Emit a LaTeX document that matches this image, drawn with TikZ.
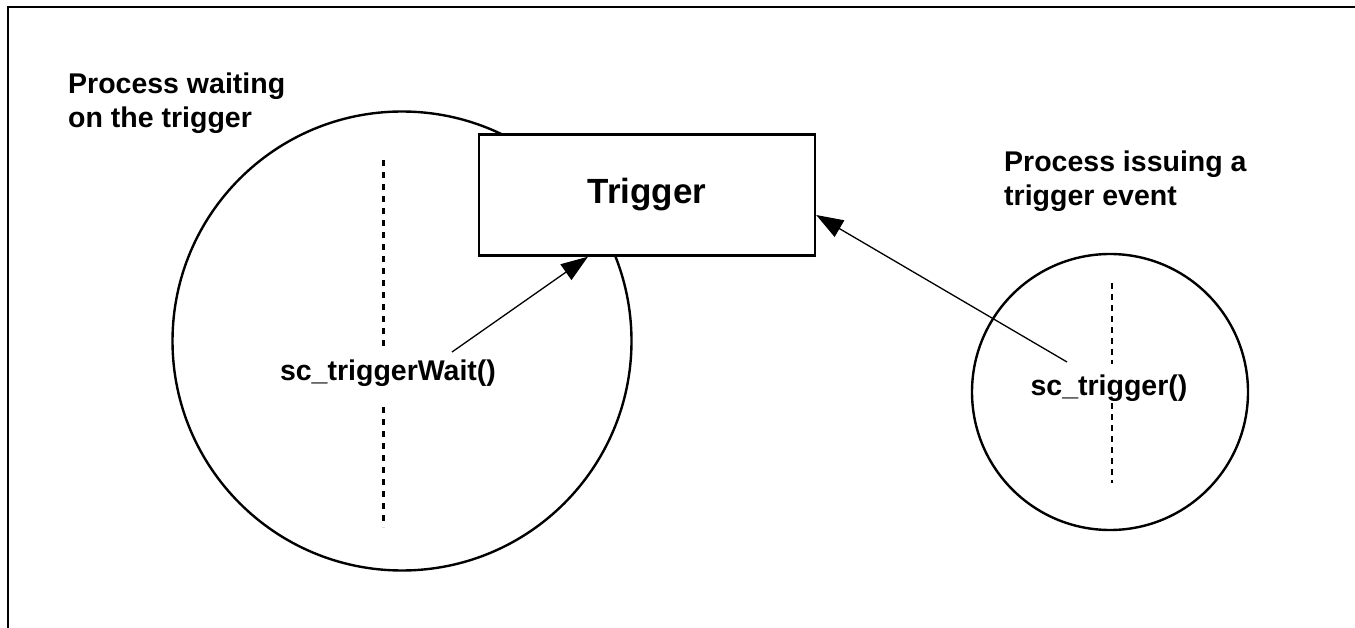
\documentclass[tikz,border=0pt]{standalone}
\usepackage{fontspec}
\setmainfont{Liberation Sans}
\usetikzlibrary{arrows.meta}

\begin{document}
\begin{tikzpicture}[x=1pt,y=-1pt,
        proc/.style={draw,shape=circle,line width=2.4pt,inner sep=0pt},
        call/.style={font=\fontsize{28.5}{34}\selectfont\bfseries,inner sep=0pt},
        lbl/.style={font=\fontsize{28.5}{34}\selectfont\bfseries,inner sep=0pt,align=left},
        waitline/.style={line width=3pt,dash pattern=on 6pt off 6pt},
        issueline/.style={line width=1.5pt,dash pattern=on 6pt off 5pt},
        sig/.style={line width=1.3pt,-{Triangle[length=27pt,width=19pt]}}]
        \useasboundingbox (0,0) rectangle (1355,628);
        \draw[line width=2pt] (8,628) -- (8,7) -- (1355,7);
        \draw (402,341) node (waiter) [proc,minimum size=459pt] {};
        \draw (1110,392) node (issuer) [proc,minimum size=276pt] {};
        \draw (647,195) node (trigger) [draw,fill=white,shape=rectangle,line width=2.4pt,minimum width=336pt,minimum height=121pt,font=\fontsize{35}{40}\selectfont\bfseries] {Trigger};
        \draw (68,128) node (waitlbl) [lbl,anchor=base west] {Process waiting\\on the trigger};
        \draw (1004,206) node (issuelbl) [lbl,anchor=base west] {Process issuing a\\trigger event};
        \draw (388,380) node (waitcall) [call,anchor=base] {sc\_triggerWait()};
        \draw (1109,395) node (trigcall) [call,anchor=base] {sc\_trigger()};
        \draw[waitline] (383,160) -- (383,347);
        \draw[waitline] (383,407) -- (383,527);
        \draw[issueline] (1112,283) -- (1112,364);
        \draw[issueline] (1112,403) -- (1112,483);
        \draw[sig] ([xshift=64pt,yshift=28pt]waitcall.base) -- ([xshift=-59pt]trigger.south);
        \draw[sig] ([xshift=-42pt,yshift=33pt]trigcall.base) -- ([yshift=-20pt]trigger.east);
\end{tikzpicture}
\end{document}
